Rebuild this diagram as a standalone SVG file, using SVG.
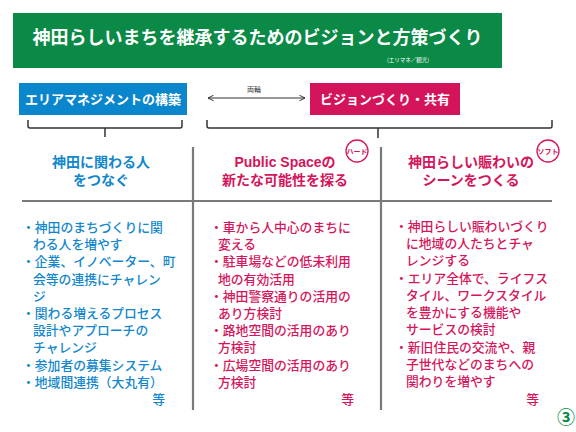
<svg xmlns="http://www.w3.org/2000/svg" width="576" height="432" viewBox="0 0 576 432">
<style>
text{font-family:"Noto Sans CJK JP","Noto Sans",sans-serif;}
.title{font-size:18px;font-weight:700;fill:#fff;}
.box{font-size:13px;font-weight:700;fill:#fff;}
.hb,.hp,.bb,.bp{font-family:"Liberation Sans","Noto Sans CJK JP",sans-serif;}
.hb{font-size:14px;font-weight:700;fill:#1387cb;}
.hp{font-size:14px;font-weight:700;fill:#d4165c;}
.bb{font-size:12.8px;font-weight:500;fill:#1387cb;}
.bp{font-size:12.8px;font-weight:500;fill:#d4165c;}
.sep{stroke:#7a7a7a;stroke-width:2.2;fill:none;}
.brace{stroke:#333;stroke-width:1.5;fill:none;}
.tag{fill:#fff;stroke:#d4165c;stroke-width:1.3;}
.tagt{font-size:7px;font-weight:700;fill:#d4165c;}
</style>
<defs>
<marker id="chev" viewBox="0 0 10 10" refX="9" refY="5" markerWidth="7" markerHeight="7" orient="auto-start-reverse" markerUnits="userSpaceOnUse">
<path d="M1,1 L9,5 L1,9" fill="none" stroke="#333" stroke-width="1.4"/>
</marker>
</defs>
<rect width="576" height="432" fill="#fff"/>
<g id="title">
<rect x="13" y="13" width="489" height="55" fill="#0a8a46"/>
<text class="title" x="257.5" y="44" text-anchor="middle">神田らしいまちを継承するためのビジョンと方策づくり</text>
<text x="408" y="62" text-anchor="middle" font-size="5.5" fill="#fff">(エリマネ／観光)</text>
</g>
<g id="areamanagement">
<rect x="19" y="83" width="168" height="32" fill="#0a86cd"/>
<text class="box" x="103" y="104" text-anchor="middle">エリアマネジメントの構築</text>
</g>
<g id="vision">
<rect x="310" y="83" width="150" height="32" fill="#d3145a"/>
<text class="box" x="385" y="104" text-anchor="middle">ビジョンづくり・共有</text>
</g>
<g id="connectors">
<line x1="208" y1="98" x2="305" y2="98" stroke="#333" stroke-width="1.2" marker-start="url(#chev)" marker-end="url(#chev)"/>
<text x="254" y="92" text-anchor="middle" font-size="7" fill="#333">両輪</text>
<path class="brace" d="M28,120 L28,126 Q28,128 30,128 L180,128 Q182,128 182,126 L182,120 M105,128 L105,137"/>
<path class="brace" d="M207,120 L207,126 Q207,128 209,128 L550,128 Q552,128 552,126 L552,120 M378,128 L378,138"/>
<line class="sep" x1="193" y1="147" x2="193" y2="410"/>
<line class="sep" x1="381" y1="147" x2="381" y2="410"/>
<line class="sep" x1="22" y1="201" x2="552" y2="201"/>
</g>
<g id="col1">
<text class="hb" x="101" y="167" text-anchor="middle">神田に関わる人</text>
<text class="hb" x="101" y="185" text-anchor="middle">をつなぐ</text>
<text class="bb"><tspan x="22" y="232">・神田のまちづくりに関</tspan><tspan x="33" y="249">わる人を増やす</tspan><tspan x="22" y="266">・企業、イノベーター、町</tspan><tspan x="33" y="284">会等の連携にチャレン</tspan><tspan x="33" y="301">ジ</tspan><tspan x="22" y="318">・関わる増えるプロセス</tspan><tspan x="33" y="335">設計やアプローチの</tspan><tspan x="33" y="352">チャレンジ</tspan><tspan x="22" y="370">・参加者の募集システム</tspan><tspan x="22" y="387">・地域間連携（大丸有）</tspan><tspan x="165" y="404" text-anchor="end">等</tspan></text>
</g>
<g id="col2">
<text class="hp" x="285" y="167" text-anchor="middle">Public Spaceの</text>
<text class="hp" x="285" y="185" text-anchor="middle">新たな可能性を探る</text>
<circle class="tag" cx="357" cy="151" r="11"/>
<text class="tagt" x="357" y="153.5" text-anchor="middle">ハード</text>
<text class="bp"><tspan x="210" y="232">・車から人中心のまちに</tspan><tspan x="218" y="249">変える</tspan><tspan x="210" y="266">・駐車場などの低未利用</tspan><tspan x="218" y="284">地の有効活用</tspan><tspan x="210" y="301">・神田警察通りの活用の</tspan><tspan x="218" y="318">あり方検討</tspan><tspan x="210" y="335">・路地空間の活用のあり</tspan><tspan x="218" y="352">方検討</tspan><tspan x="210" y="370">・広場空間の活用のあり</tspan><tspan x="218" y="387">方検討</tspan><tspan x="354" y="404" text-anchor="end">等</tspan></text>
</g>
<g id="col3">
<text class="hp" x="471" y="167" text-anchor="middle">神田らしい賑わいの</text>
<text class="hp" x="471" y="185" text-anchor="middle">シーンをつくる</text>
<circle class="tag" cx="548" cy="151" r="11"/>
<text class="tagt" x="548" y="153.5" text-anchor="middle">ソフト</text>
<text class="bp"><tspan x="395" y="231">・神田らしい賑わいづくり</tspan><tspan x="406" y="248">に地域の人たちとチャ</tspan><tspan x="406" y="265">レンジする</tspan><tspan x="395" y="283">・エリア全体で、ライフス</tspan><tspan x="406" y="300">タイル、ワークスタイル</tspan><tspan x="406" y="317">を豊かにする機能や</tspan><tspan x="406" y="334">サービスの検討</tspan><tspan x="395" y="352">・新旧住民の交流や、親</tspan><tspan x="406" y="369">子世代などのまちへの</tspan><tspan x="406" y="386">関わりを増やす</tspan><tspan x="539" y="404" text-anchor="end">等</tspan></text>
</g>
<g id="pagenum">
<text x="566" y="424" text-anchor="middle" font-size="18" font-weight="700" fill="#0a8a46">③</text>
</g>
</svg>
